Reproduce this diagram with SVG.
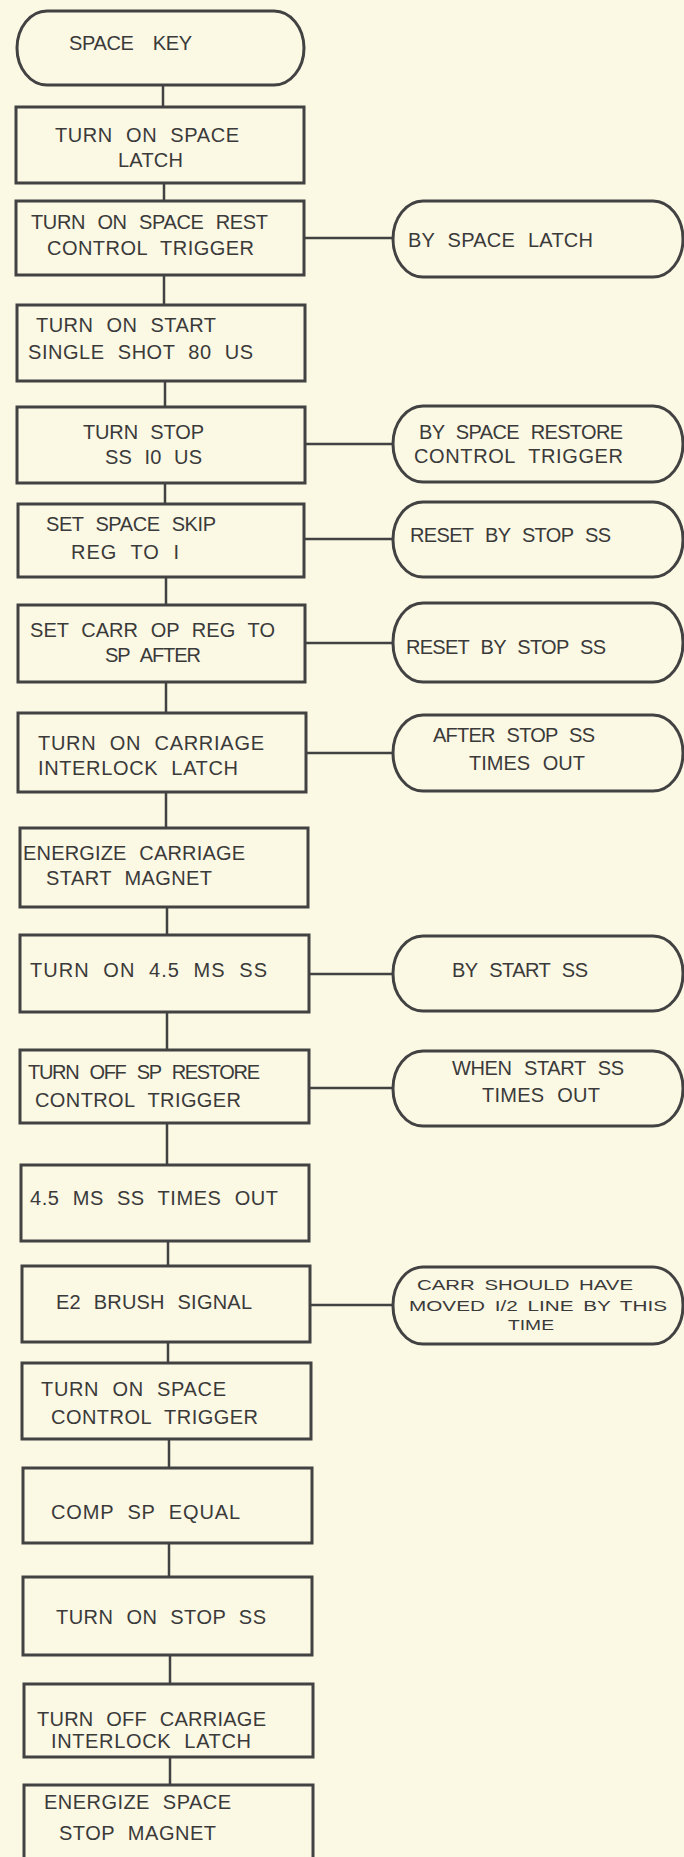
<svg xmlns="http://www.w3.org/2000/svg" width="684" height="1857" viewBox="0 0 684 1857">
<style>
.bg{fill:#fbf8e4}
.n{fill:none;stroke:#424242;stroke-width:3}
.c{fill:none;stroke:#424242;stroke-width:2.5}
text{font-family:"Liberation Sans",Arial,sans-serif;font-size:20px;word-spacing:7px;fill:#3a3a3a}
.s{font-size:15.5px;word-spacing:3px}
</style>
<rect class="bg" x="0" y="0" width="684" height="1857"/>
<g id="connectors">
<path class="c" d="M163 85V107M164 183V201M164 275V305M165 381V407M165 483V504M166 577V605M166 682V713M166 792V828M167 907V935M167 1012V1050M167 1123V1165M168 1241V1266M168 1342V1363M169 1439V1468M169 1543V1577M170 1655V1684M170 1757V1785"/>
<path class="c" d="M304 238H393M305 444H393M304 539H393M305 643H393M306 753H393M309 974H393M309 1088H393M310 1305H393"/>
</g>
<g id="n1"><rect class="n" x="17" y="11" width="287" height="74" rx="30" ry="37"/><text x="69" y="50" textLength="123" lengthAdjust="spacing" style="word-spacing:14px">SPACE KEY</text></g>
<g id="n2"><rect class="n" x="16" y="107" width="288" height="76"/><text x="55" y="142" textLength="184" lengthAdjust="spacing">TURN ON SPACE</text><text x="118" y="167" textLength="65" lengthAdjust="spacing">LATCH</text></g>
<g id="n3"><rect class="n" x="16" y="201" width="288" height="74"/><text x="31" y="229" textLength="237" lengthAdjust="spacing">TURN ON SPACE REST</text><text x="47" y="255" textLength="207" lengthAdjust="spacing">CONTROL TRIGGER</text></g>
<g id="s1"><rect class="n" x="393" y="201" width="290" height="76" rx="30" ry="38"/><text x="408" y="247" textLength="185" lengthAdjust="spacing">BY SPACE LATCH</text></g>
<g id="n4"><rect class="n" x="17" y="305" width="288" height="76"/><text x="36" y="332" textLength="180" lengthAdjust="spacing">TURN ON START</text><text x="28" y="359" textLength="225" lengthAdjust="spacing">SINGLE SHOT 80 US</text></g>
<g id="n5"><rect class="n" x="17" y="407" width="288" height="76"/><text x="83" y="439" textLength="121" lengthAdjust="spacing">TURN STOP</text><text x="105" y="464" textLength="97" lengthAdjust="spacing">SS I0 US</text></g>
<g id="s2"><rect class="n" x="393" y="406" width="290" height="76" rx="30" ry="38"/><text x="419" y="439" textLength="204" lengthAdjust="spacing">BY SPACE RESTORE</text><text x="414" y="463" textLength="209" lengthAdjust="spacing">CONTROL TRIGGER</text></g>
<g id="n6"><rect class="n" x="18" y="504" width="286" height="73"/><text x="46" y="531" textLength="170" lengthAdjust="spacing">SET SPACE SKIP</text><text x="71" y="559" textLength="108" lengthAdjust="spacing">REG TO I</text></g>
<g id="s3"><rect class="n" x="393" y="502" width="290" height="75" rx="30" ry="37"/><text x="410" y="542" textLength="201" lengthAdjust="spacing">RESET BY STOP SS</text></g>
<g id="n7"><rect class="n" x="18" y="605" width="287" height="77"/><text x="30" y="637" textLength="245" lengthAdjust="spacing">SET CARR OP REG TO</text><text x="105" y="662" textLength="96" lengthAdjust="spacing">SP AFTER</text></g>
<g id="s4"><rect class="n" x="393" y="603" width="290" height="79" rx="30" ry="39"/><text x="406" y="654" textLength="200" lengthAdjust="spacing">RESET BY STOP SS</text></g>
<g id="n8"><rect class="n" x="18" y="713" width="288" height="79"/><text x="38" y="750" textLength="226" lengthAdjust="spacing">TURN ON CARRIAGE</text><text x="38" y="775" textLength="200" lengthAdjust="spacing">INTERLOCK LATCH</text></g>
<g id="s5"><rect class="n" x="393" y="715" width="290" height="76" rx="30" ry="38"/><text x="433" y="742" textLength="162" lengthAdjust="spacing">AFTER STOP SS</text><text x="469" y="770" textLength="116" lengthAdjust="spacing">TIMES OUT</text></g>
<g id="n9"><rect class="n" x="20" y="828" width="288" height="79"/><text x="23" y="860" textLength="222" lengthAdjust="spacing">ENERGIZE CARRIAGE</text><text x="46" y="885" textLength="166" lengthAdjust="spacing">START MAGNET</text></g>
<g id="n10"><rect class="n" x="20" y="935" width="289" height="77"/><text x="30" y="977" textLength="237" lengthAdjust="spacing">TURN ON 4.5 MS SS</text></g>
<g id="s6"><rect class="n" x="393" y="936" width="290" height="75" rx="30" ry="37"/><text x="452" y="977" textLength="136" lengthAdjust="spacing">BY START SS</text></g>
<g id="n11"><rect class="n" x="20" y="1050" width="289" height="73"/><text x="28" y="1079" textLength="232" lengthAdjust="spacing">TURN OFF SP RESTORE</text><text x="35" y="1107" textLength="206" lengthAdjust="spacing">CONTROL TRIGGER</text></g>
<g id="s7"><rect class="n" x="393" y="1051" width="290" height="75" rx="30" ry="37"/><text x="452" y="1075" textLength="172" lengthAdjust="spacing">WHEN START SS</text><text x="482" y="1102" textLength="118" lengthAdjust="spacing">TIMES OUT</text></g>
<g id="n12"><rect class="n" x="21" y="1165" width="288" height="76"/><text x="30" y="1205" textLength="248" lengthAdjust="spacing">4.5 MS SS TIMES OUT</text></g>
<g id="n13"><rect class="n" x="22" y="1266" width="288" height="76"/><text x="56" y="1309" textLength="196" lengthAdjust="spacing">E2 BRUSH SIGNAL</text></g>
<g id="s8"><rect class="n" x="393" y="1267" width="290" height="77" rx="30" ry="38"/><text class="s" x="417" y="1290" textLength="216" lengthAdjust="spacingAndGlyphs">CARR SHOULD HAVE</text><text class="s" x="409" y="1311" textLength="258" lengthAdjust="spacingAndGlyphs">MOVED I/2 LINE BY THIS</text><text class="s" x="508" y="1330" textLength="46" lengthAdjust="spacingAndGlyphs">TIME</text></g>
<g id="n14"><rect class="n" x="22" y="1363" width="289" height="76"/><text x="41" y="1396" textLength="185" lengthAdjust="spacing">TURN ON SPACE</text><text x="51" y="1424" textLength="207" lengthAdjust="spacing">CONTROL TRIGGER</text></g>
<g id="n15"><rect class="n" x="23" y="1468" width="289" height="75"/><text x="51" y="1519" textLength="189" lengthAdjust="spacing">COMP SP EQUAL</text></g>
<g id="n16"><rect class="n" x="23" y="1577" width="289" height="78"/><text x="56" y="1624" textLength="210" lengthAdjust="spacing">TURN ON STOP SS</text></g>
<g id="n17"><rect class="n" x="24" y="1684" width="289" height="73"/><text x="37" y="1726" textLength="229" lengthAdjust="spacing">TURN OFF CARRIAGE</text><text x="51" y="1748" textLength="200" lengthAdjust="spacing">INTERLOCK LATCH</text></g>
<g id="n18"><rect class="n" x="24" y="1785" width="289" height="90"/><text x="44" y="1809" textLength="187" lengthAdjust="spacing">ENERGIZE SPACE</text><text x="59" y="1840" textLength="157" lengthAdjust="spacing">STOP MAGNET</text></g>
</svg>
